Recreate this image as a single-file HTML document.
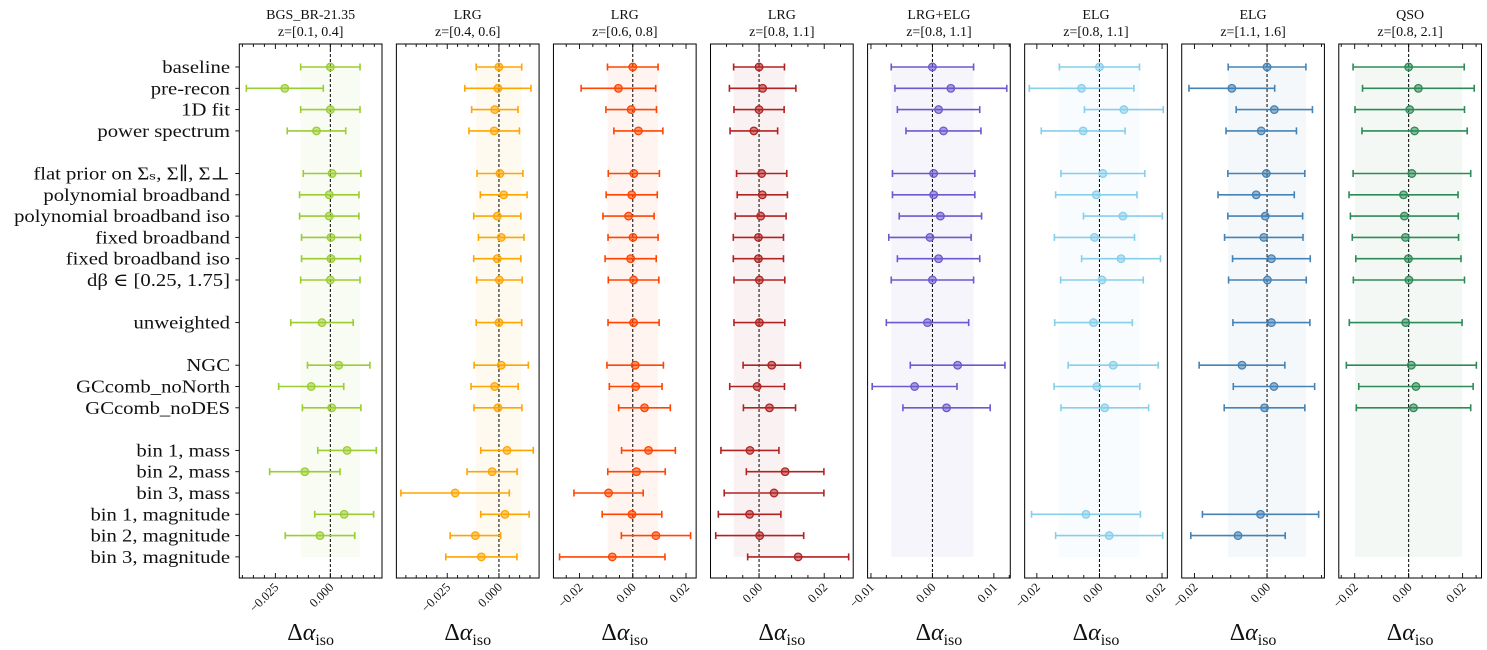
<!DOCTYPE html>
<html><head><meta charset="utf-8">
<style>
html,body{margin:0;padding:0;background:#fff;}
svg{display:block;font-family:"Liberation Serif","DejaVu Serif",serif;}
</style></head>
<body>
<svg id="chart" width="1487" height="650" viewBox="0 0 1487 650" xmlns="http://www.w3.org/2000/svg"></svg>
<script>
const rowLabels = ["baseline","pre-recon","1D fit","power spectrum","flat prior on Σ\u209B, Σ\u2225, Σ\u22A5","polynomial broadband","polynomial broadband iso","fixed broadband","fixed broadband iso","dβ ∈ [0.25, 1.75]","unweighted","NGC","GCcomb_noNorth","GCcomb_noDES","bin 1, mass","bin 2, mass","bin 3, mass","bin 1, magnitude","bin 2, magnitude","bin 3, magnitude"];
const rowSlots = [0,1,2,3,5,6,7,8,9,10,12,14,15,16,18,19,20,21,22,23];
const tracerNames = ["BGS_BR-21.35","LRG","LRG","LRG","LRG+ELG","ELG","ELG","QSO"];
const zRanges = ["z=[0.1, 0.4]","z=[0.4, 0.6]","z=[0.6, 0.8]","z=[0.8, 1.1]","z=[0.8, 1.1]","z=[0.8, 1.1]","z=[1.1, 1.6]","z=[0.8, 2.1]"];
const colors = ["#9acd32","#ffa500","#ff4500","#b22222","#6a5acd","#87ceeb","#4682b4","#2e8b57"];
const xDomains = [[-0.0414,0.0235],[-0.0496,0.0194],[-0.0298,0.0238],[-0.0149,0.0289],[-0.01055,0.01267],[-0.0239,0.0217],[-0.0235,0.0158],[-0.0259,0.0270]];
const majorTicks = [[-0.025,0],[-0.025,0],[-0.02,0,0.02],[0,0.02],[-0.01,0,0.01],[-0.02,0,0.02],[-0.02,0],[-0.02,0,0.02]];
const tickLabels = [["−0.025","0.000"],["−0.025","0.000"],["−0.02","0.00","0.02"],["0.00","0.02"],["−0.01","0.00","0.01"],["−0.02","0.00","0.02"],["−0.02","0.00"],["−0.02","0.00","0.02"]];
const minorSteps = [0.005,0.005,0.005,0.005,0.0025,0.005,0.005,0.005];
const bandHalf = [0.0135,0.0110,0.0095,0.0078,0.0067,0.0128,0.0107,0.0199];

const vals0 = [0,-0.0207,0,-0.0063,0.0008,-0.0005,-0.0005,0.0003,0.0003,0,-0.0038,0.0038,-0.0087,0.0006,0.0076,-0.0116,null,0.0063,-0.0047,null];
const errs0 = [0.0135,0.0175,0.0135,0.0133,0.0131,0.0135,0.0135,0.0134,0.0134,0.0135,0.0142,0.0142,0.0148,0.0133,0.0133,0.0160,null,0.0134,0.0158,null];
const vals1 = [0,-0.0005,-0.0020,-0.0023,0.0005,0.0023,-0.0008,0.0011,-0.0008,0.0002,0,0.0011,-0.0021,-0.0005,0.0039,-0.0033,-0.0212,0.0029,-0.0114,-0.0085];
const errs1 = [0.0110,0.0160,0.0112,0.0122,0.0111,0.0113,0.0114,0.0110,0.0114,0.0110,0.0110,0.0131,0.0114,0.0116,0.0127,0.0121,0.0262,0.0117,0.0122,0.0172];
const vals2 = [0,-0.0054,-0.0006,0.0021,0.0004,-0.0004,-0.0016,0.0001,-0.0008,0.0003,0.0003,0.0009,0.0011,0.0044,0.0059,0.0014,-0.0091,-0.0003,0.0087,-0.0077];
const errs2 = [0.0095,0.0140,0.0095,0.0092,0.0096,0.0096,0.0096,0.0094,0.0096,0.0095,0.0096,0.0106,0.0099,0.0097,0.0101,0.0108,0.0130,0.0112,0.0130,0.0198];
const vals3 = [0,0.0011,0,-0.0016,0.0008,0.0010,0.0005,-0.0002,-0.0002,0.0001,0.0001,0.0039,-0.0006,0.0032,-0.0028,0.0080,0.0046,-0.0029,0.0002,0.0120];
const errs3 = [0.0078,0.0102,0.0077,0.0073,0.0077,0.0077,0.0078,0.0077,0.0077,0.0078,0.0078,0.0088,0.0084,0.0080,0.0089,0.0119,0.0153,0.0096,0.0135,0.0155];
const vals4 = [0,0.0030,0.0010,0.0018,0.0002,0.0002,0.0013,-0.0004,0.0010,0,-0.0008,0.0041,-0.0029,0.0023,null,null,null,null,null,null];
const errs4 = [0.0067,0.0091,0.0067,0.0061,0.0067,0.0067,0.0067,0.0067,0.0067,0.0067,0.0067,0.0077,0.0069,0.0071,null,null,null,null,null,null];
const vals5 = [0,-0.0057,0.0078,-0.0052,0.0011,-0.0010,0.0075,-0.0016,0.0069,0.0008,-0.0019,0.0044,-0.0008,0.0017,null,null,null,-0.0043,0.0031,null];
const errs5 = [0.0128,0.0167,0.0126,0.0134,0.0134,0.0130,0.0126,0.0128,0.0126,0.0132,0.0124,0.0144,0.0137,0.0140,null,null,null,0.0174,0.0171,null];
const vals6 = [0,-0.0097,0.0020,-0.0016,-0.0002,-0.0030,-0.0005,-0.0009,0.0012,0.0001,0.0012,-0.0069,0.0019,-0.0007,null,null,null,-0.0018,-0.0080,null];
const errs6 = [0.0107,0.0118,0.0105,0.0097,0.0106,0.0105,0.0103,0.0108,0.0107,0.0107,0.0106,0.0118,0.0112,0.0111,null,null,null,0.0160,0.0130,null];
const vals7 = [0,0.0036,0.0004,0.0022,0.0012,-0.0019,-0.0016,-0.0012,-0.0001,0.0001,-0.0011,0.0010,0.0027,0.0018,null,null,null,null,null,null];
const errs7 = [0.0206,0.0207,0.0203,0.0195,0.0218,0.0202,0.0200,0.0197,0.0195,0.0206,0.0209,0.0241,0.0212,0.0212,null,null,null,null,null,null];
const allVals = [vals0,vals1,vals2,vals3,vals4,vals5,vals6,vals7];
const allErrs = [errs0,errs1,errs2,errs3,errs4,errs5,errs6,errs7];

const NS = "http://www.w3.org/2000/svg";
const svg = document.getElementById("chart");
function mk(tag, attrs, parent){ const e=document.createElementNS(NS,tag); for(const k in attrs) e.setAttribute(k,attrs[k]); (parent||svg).appendChild(e); return e; }
const yTop=44, yBottom=578, panelW=142.7, panelX0=239.3, panelStep=157.07;
const rowY = i => 67 + rowSlots[i]*21.3;

const labelGroup = mk("g",{transform:"translate(230,0) scale(1.15,1)"});


for(let i=0;i<rowLabels.length;i++){
  const t = mk("text",{x:0,y:rowY(i)+6,"text-anchor":"end","font-size":"18",fill:"#111"},labelGroup);
  
  
  t.textContent = rowLabels[i];
}

for(let p=0;p<8;p++){
  const L = panelX0 + p*panelStep, R = L + panelW;
  const [d0,d1] = xDomains[p];
  const xs = v => L + (v-d0)/(d1-d0)*panelW;
  const col = colors[p];
  const g = mk("g",{});
  
  
  const band = mk("rect",{x:xs(-bandHalf[p]),y:rowY(0),width:xs(bandHalf[p])-xs(-bandHalf[p]),height:rowY(19)-rowY(0),fill:col,"fill-opacity":"0.06"},g);
  
  
  const zl = mk("line",{x1:xs(0),x2:xs(0),y1:yTop,y2:yBottom,stroke:"#000","stroke-width":"1","stroke-dasharray":"3,2"},g);
  
  
  const fr = mk("rect",{x:L,y:yTop,width:panelW,height:yBottom-yTop,fill:"none",stroke:"#000","stroke-width":"1"},g);
  
  
  const step = minorSteps[p];
  for(let k=Math.ceil(d0/step); k*step<=d1; k++){
    const v=k*step, x=xs(v);
    const isMajor = majorTicks[p].some(m=>Math.abs(m-v)<1e-9);
    const len = isMajor?5:3;
    mk("line",{x1:x,x2:x,y1:yBottom,y2:yBottom-len,stroke:"#000","stroke-width":"0.9"},g);
    mk("line",{x1:x,x2:x,y1:yTop,y2:yTop+len,stroke:"#000","stroke-width":"0.9"},g);
  }
  majorTicks[p].forEach((v,j)=>{
    const x=xs(v);
    const t = mk("text",{x:x+4,y:yBottom+10,"text-anchor":"end","font-size":"12.5",fill:"#111",transform:`rotate(-45 ${x+4} ${yBottom+10})`},g);
    
    
    t.textContent = tickLabels[p][j];
  });
  const xt = mk("text",{x:(L+R)/2,y:640,"text-anchor":"middle","font-size":"24",fill:"#111"},g);
  
  
  xt.innerHTML = 'Δ<tspan font-style="italic">α</tspan><tspan font-size="16" dy="5">iso</tspan>';
  const t1 = mk("text",{x:(L+R)/2,y:19,"text-anchor":"middle","font-size":"14",fill:"#111"},g);
  
  
  t1.textContent = tracerNames[p];
  const t2 = mk("text",{x:(L+R)/2,y:36,"text-anchor":"middle","font-size":"14",fill:"#111"},g);
  
  
  t2.textContent = zRanges[p];
  if(p===0){
    for(let i=0;i<rowLabels.length;i++){
      mk("line",{x1:L-4,x2:L,y1:rowY(i),y2:rowY(i),stroke:"#000","stroke-width":"0.9"},g);
    }
  }
  const vals = allVals[p], errs = allErrs[p];
  for(let i=0;i<vals.length;i++){
    if(vals[i]===null) continue;
    const y=rowY(i), x=xs(vals[i]), xl=xs(vals[i]-errs[i]), xr=xs(vals[i]+errs[i]);
    const eb = mk("g",{},g);
    
    
    mk("line",{x1:xl,x2:xr,y1:y,y2:y,stroke:col,"stroke-width":"1.6"},eb);
    mk("line",{x1:xl,x2:xl,y1:y-3.5,y2:y+3.5,stroke:col,"stroke-width":"1.6"},eb);
    mk("line",{x1:xr,x2:xr,y1:y-3.5,y2:y+3.5,stroke:col,"stroke-width":"1.6"},eb);
    const pt = mk("circle",{cx:x,cy:y,r:3.8,fill:col,"fill-opacity":"0.55",stroke:col,"stroke-width":"1.3"},eb);
    
    
  }
}
</script>
</body></html>
